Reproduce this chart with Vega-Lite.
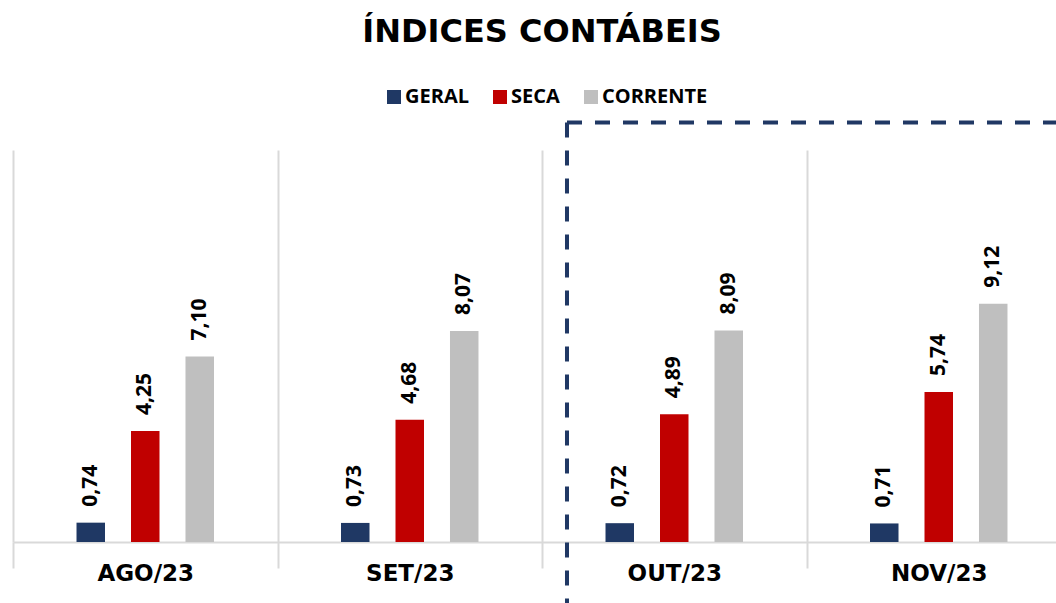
{
  "$schema": "https://vega.github.io/schema/vega-lite/v6.json",
  "width": 1058,
  "height": 392,
  "autosize": {"type": "none"},
  "padding": {"left": 13, "top": 150, "right": 0, "bottom": 61},
  "background": "white",
  "title": {
    "text": "ÍNDICES CONTÁBEIS",
    "font": "DejaVu Sans",
    "fontSize": 32,
    "fontWeight": "bold",
    "color": "#000000",
    "anchor": "middle",
    "offset": 38
  },
  "datasets": {
    "bars": [
      {"mes": "AGO/23", "indice": "GERAL", "valor": 0.74, "rotulo": "0,74"},
      {"mes": "AGO/23", "indice": "SECA", "valor": 4.25, "rotulo": "4,25"},
      {"mes": "AGO/23", "indice": "CORRENTE", "valor": 7.10, "rotulo": "7,10"},
      {"mes": "SET/23", "indice": "GERAL", "valor": 0.73, "rotulo": "0,73"},
      {"mes": "SET/23", "indice": "SECA", "valor": 4.68, "rotulo": "4,68"},
      {"mes": "SET/23", "indice": "CORRENTE", "valor": 8.07, "rotulo": "8,07"},
      {"mes": "OUT/23", "indice": "GERAL", "valor": 0.72, "rotulo": "0,72"},
      {"mes": "OUT/23", "indice": "SECA", "valor": 4.89, "rotulo": "4,89"},
      {"mes": "OUT/23", "indice": "CORRENTE", "valor": 8.09, "rotulo": "8,09"},
      {"mes": "NOV/23", "indice": "GERAL", "valor": 0.71, "rotulo": "0,71"},
      {"mes": "NOV/23", "indice": "SECA", "valor": 5.74, "rotulo": "5,74"},
      {"mes": "NOV/23", "indice": "CORRENTE", "valor": 9.12, "rotulo": "9,12"}
    ],
    "destaque": [
      {"x": 2.0945, "x2": 2.0945, "y": 16.05, "y2": -2.5},
      {"x": 2.0945, "x2": 4.5, "y": 16.05, "y2": 16.05}
    ]
  },
  "layer": [
    {
      "data": {"name": "bars"},
      "encoding": {
        "x": {
          "field": "mes",
          "type": "nominal",
          "sort": ["AGO/23", "SET/23", "OUT/23", "NOV/23"],
          "scale": {"paddingInner": 0, "paddingOuter": 0},
          "axis": {
            "title": null,
            "labelAngle": 0,
            "labelFont": "DejaVu Sans",
            "labelFontSize": 23,
            "labelFontWeight": "bold",
            "labelColor": "#000000",
            "labelPadding": -6,
            "tickBand": "extent",
            "tickSize": 26,
            "tickWidth": 2,
            "tickColor": "#D9D9D9",
            "domainColor": "#D9D9D9",
            "domainWidth": 2,
            "grid": true,
            "gridColor": "#D9D9D9",
            "gridWidth": 2
          }
        },
        "xOffset": {
          "field": "indice",
          "type": "nominal",
          "sort": ["GERAL", "SECA", "CORRENTE"],
          "scale": {"paddingInner": 0, "paddingOuter": 0.927}
        },
        "y": {
          "field": "valor",
          "type": "quantitative",
          "scale": {"domain": [0, 15], "nice": false, "zero": true},
          "axis": null
        }
      },
      "layer": [
        {
          "mark": {"type": "bar", "width": 28.5},
          "encoding": {
            "color": {
              "field": "indice",
              "type": "nominal",
              "sort": ["GERAL", "SECA", "CORRENTE"],
              "scale": {"domain": ["GERAL", "SECA", "CORRENTE"], "range": ["#1F3864", "#C00000", "#BFBFBF"]},
              "legend": {
                "title": null,
                "orient": "none",
                "direction": "horizontal",
                "legendX": 371,
                "legendY": -63,
                "symbolType": "square",
                "symbolSize": 196,
                "symbolStrokeWidth": 0,
                "labelFont": "Open Sans",
                "labelFontSize": 20,
                "labelFontWeight": "bold",
                "labelColor": "#000000",
                "labelOffset": 1,
                "columnPadding": 21
              }
            }
          }
        },
        {
          "mark": {
            "type": "text",
            "angle": 270,
            "align": "left",
            "baseline": "middle",
            "dx": 16,
            "font": "Open Sans",
            "fontSize": 21,
            "fontWeight": "bold",
            "color": "#000000"
          },
          "encoding": {
            "text": {"field": "rotulo"}
          }
        }
      ]
    },
    {
      "data": {"name": "destaque"},
      "mark": {"type": "rule", "color": "#203864", "strokeWidth": 4, "strokeDash": [15, 13]},
      "encoding": {
        "x": {"field": "x", "type": "quantitative", "scale": {"domain": [0, 4], "nice": false, "zero": false}, "axis": null},
        "x2": {"field": "x2"},
        "y": {"field": "y", "type": "quantitative"},
        "y2": {"field": "y2"}
      }
    }
  ],
  "resolve": {"scale": {"x": "independent"}},
  "config": {"view": {"stroke": null}}
}
